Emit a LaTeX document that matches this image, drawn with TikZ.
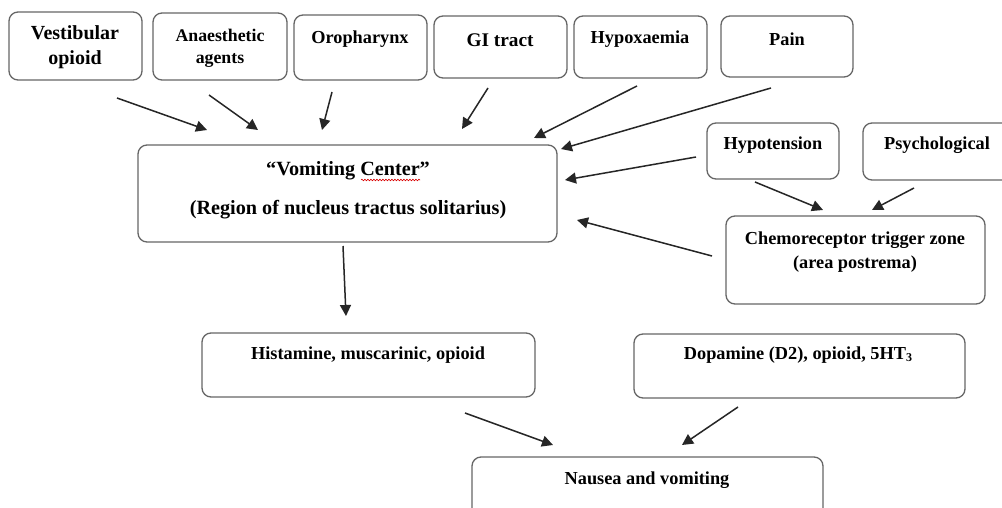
\documentclass[tikz,border=0pt]{standalone}
\usepackage{fontspec}
\setmainfont{Liberation Serif}
\usetikzlibrary{arrows.meta,decorations.pathmorphing}
\begin{document}
\begin{tikzpicture}[x=1pt,y=-1pt,
  box/.style={draw=black!60, line width=1.3pt, rounded corners=9pt, fill=white},
  txt/.style={font=\bfseries\fontsize{18.3}{22}\selectfont, align=center, inner sep=0pt},
  arr/.style={draw=black!85, line width=1.5pt, -{Triangle[length=11pt,width=11pt]}}]
\useasboundingbox[fill=white] (0,0) rectangle (1002,508);
% boxes
\draw[box] (9,12) rectangle (142,80);
\node[txt, font=\bfseries\fontsize{20}{25}\selectfont] (vest) at (75,47.5) {Vestibular\\opioid};
\draw[box] (153,13) rectangle (287,80);
\node[txt, font=\bfseries\fontsize{17.8}{22}\selectfont] (anaes) at (220,48) {Anaesthetic\\agents};
\draw[box] (294,15) rectangle (427,80);
\node[txt] (oro) at (360,39) {Oropharynx};
\draw[box] (434,16) rectangle (567,78);
\node[txt, font=\bfseries\fontsize{19.3}{22}\selectfont] (gi) at (500,40) {GI tract};
\draw[box] (574,16) rectangle (707,78);
\node[txt] (hypox) at (640,39) {Hypoxaemia};
\draw[box] (721,16) rectangle (853,77);
\node[txt] (pain) at (787,39) {Pain};
\draw[box] (707,123) rectangle (839,179);
\node[txt] (hypot) at (773,145) {Hypotension};
\draw[box] (863,123) rectangle (1020,180);
\node[txt] (psych) at (937,145) {Psychological};
\draw[box] (726,216) rectangle (985,304);
\node[txt, font=\bfseries\fontsize{18.3}{24}\selectfont] (ctz) at (855,252) {Chemoreceptor trigger zone\\(area postrema)};
\draw[box] (138,145) rectangle (557,242);
\node[txt, font=\bfseries\fontsize{20.2}{24}\selectfont] (vc1) at (348,171) {“Vomiting Center”};
\node[txt, font=\bfseries\fontsize{20.2}{24}\selectfont] (vc2) at (348,210) {(Region of nucleus tractus solitarius)};
\coordinate (sq1) at (361,180);
\coordinate (sq2) at (420,180);
\draw[red!85!black, line width=0.6pt, decorate, decoration={snake, amplitude=0.8pt, segment length=3pt}] (sq1) -- (sq2);
\draw[box] (202,333) rectangle (535,397);
\node[txt] (hist) at (368,355) {Histamine, muscarinic, opioid};
\draw[box] (634,334) rectangle (965,398);
\node[txt] (dopa) at (798,355) {Dopamine (D2), opioid, 5HT\raisebox{-0.1em}{\fontsize{12}{12}\selectfont 3}};
\draw[box] (472,457) rectangle (823,530);
\node[txt] (naus) at (647,480) {Nausea and vomiting};
% arrow endpoints
\coordinate (a1s) at (117,98);  \coordinate (a1e) at (207,130);
\coordinate (a2s) at (209,95);  \coordinate (a2e) at (258,130);
\coordinate (a3s) at (332,92);  \coordinate (a3e) at (322,130);
\coordinate (a4s) at (488,88);  \coordinate (a4e) at (462,129);
\coordinate (a5s) at (637,86);  \coordinate (a5e) at (534,138);
\coordinate (a6s) at (771,88);  \coordinate (a6e) at (561,149);
\coordinate (a7s) at (696,157); \coordinate (a7e) at (565,180);
\coordinate (a8s) at (755,182); \coordinate (a8e) at (823,210);
\coordinate (a9s) at (914,188); \coordinate (a9e) at (872,210);
\coordinate (a10s) at (712,256); \coordinate (a10e) at (577,220);
\coordinate (a11s) at (343,246); \coordinate (a11e) at (346,316);
\coordinate (a12s) at (465,413); \coordinate (a12e) at (553,445);
\coordinate (a13s) at (738,407); \coordinate (a13e) at (682,445);
\foreach \i in {1,...,13} \draw[arr] (a\i s) -- (a\i e);
\end{tikzpicture}
\end{document}
